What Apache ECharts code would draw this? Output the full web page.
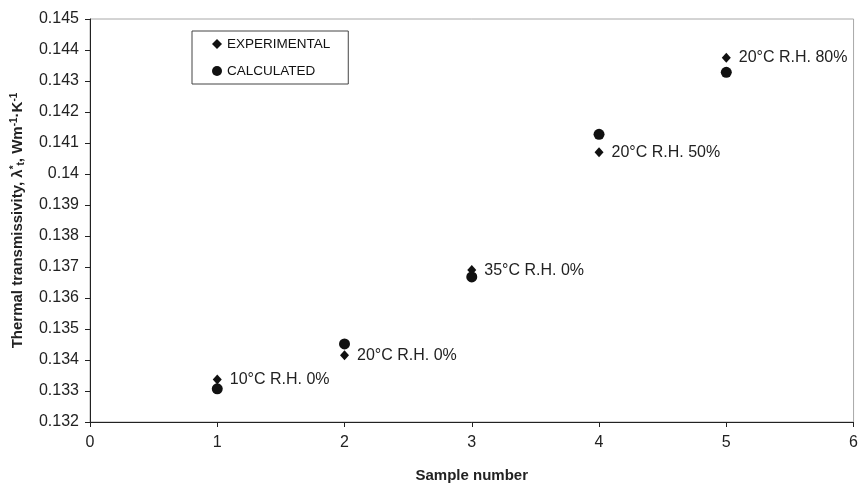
<!DOCTYPE html>
<html><head><meta charset="utf-8">
<script src="https://cdn.jsdelivr.net/npm/echarts@6/dist/echarts.min.js"></script>
<style>html,body{margin:0;padding:0;background:#fff}#c{width:861px;height:488px}</style>
</head><body><div id="c"></div>
<script>
const samples = [1, 2, 3, 4, 5];
const experimental = [0.13337, 0.13415, 0.13690, 0.14070, 0.14375];
const calculated = [0.13307, 0.13452, 0.13668, 0.14128, 0.14328];
const pointLabels = ['10°C R.H. 0%', '20°C R.H. 0%', '35°C R.H. 0%', '20°C R.H. 50%', '20°C R.H. 80%'];
const xTicks = [0, 1, 2, 3, 4, 5, 6];

const font = 'Liberation Sans, Arial, sans-serif';
const chart = echarts.init(document.getElementById('c'), null, {renderer: 'canvas'});
chart.setOption({
  animation: false,
  backgroundColor: '#fff',
  grid: {left: 90, right: 4, top: 19, bottom: 58, show: true, borderColor: '#a8a8a8', borderWidth: 1},
  legend: {
    orient: 'vertical', left: 192, top: 31,
    borderColor: '#444', borderWidth: 1,
    padding: [6, 18, 6, 20], itemGap: 13,
    itemWidth: 10, itemHeight: 10,
    textStyle: {fontFamily: font, fontSize: 13.5, color: '#111'},
    data: [{name: 'EXPERIMENTAL', icon: 'diamond'}, {name: 'CALCULATED', icon: 'circle'}]
  },
  xAxis: {
    type: 'value', min: 0, max: 6, interval: 1,
    name: 'Sample number', nameLocation: 'middle', nameGap: 46,
    nameTextStyle: {fontFamily: font, fontSize: 15, fontWeight: 'bold', color: '#222'},
    axisLine: {lineStyle: {color: '#222', width: 1}},
    axisTick: {show: true, length: 5, lineStyle: {color: '#222'}},
    axisLabel: {fontFamily: font, fontSize: 16, color: '#222', margin: 13,
      formatter: v => xTicks.includes(v) ? String(v) : ''},
    splitLine: {show: false}
  },
  yAxis: {
    type: 'value', min: 0.132, max: 0.145, interval: 0.001,
    name: '{n|Thermal transmissivity, λ}{sup|*}{sub|t}{n|, Wm}{sup|-1}{n|·K}{sup|-1}',
    nameLocation: 'middle', nameGap: 64, nameRotate: 90,
    nameTextStyle: {
      rich: {
        n: {fontFamily: font, fontSize: 15, fontWeight: 'bold', color: '#222'},
        sup: {fontFamily: font, fontSize: 10, fontWeight: 'bold', color: '#222', verticalAlign: 'top', padding: [0, 0, 7, 0]},
        sub: {fontFamily: font, fontSize: 10, fontWeight: 'bold', color: '#222', verticalAlign: 'bottom', padding: [7, 0, 0, 0]}
      }
    },
    axisLine: {show: true, lineStyle: {color: '#222', width: 1}},
    axisTick: {show: true, length: 5, lineStyle: {color: '#222'}},
    axisLabel: {fontFamily: font, fontSize: 16, color: '#222', margin: 11,
      formatter: v => String(parseFloat(v.toFixed(3)))},
    splitLine: {show: false}
  },
  series: [
    {
      name: 'CALCULATED', type: 'scatter', symbol: 'circle', symbolSize: 11,
      itemStyle: {color: '#111', opacity: 1},
      data: samples.map((s, i) => [s, calculated[i]]),
      z: 2
    },
    {
      name: 'EXPERIMENTAL', type: 'scatter', symbol: 'diamond', symbolSize: [9, 10],
      itemStyle: {color: '#111', opacity: 1},
      data: samples.map((s, i) => [s, experimental[i]]),
      label: {show: true, position: 'right', distance: 8,
        fontFamily: font, fontSize: 16, color: '#222',
        formatter: p => pointLabels[p.dataIndex]},
      z: 3
    }
  ]
});
</script></body></html>
